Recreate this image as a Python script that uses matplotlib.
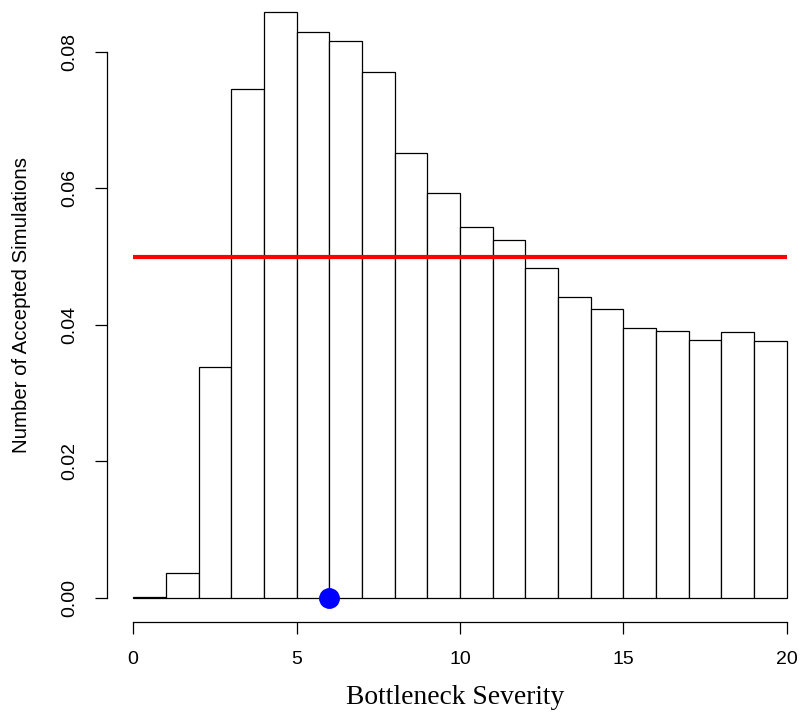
import numpy as np
import matplotlib.pyplot as plt

# Histogram of bottleneck severity among accepted simulations
bin_left = list(range(20))
freq = [0.0002, 0.0037, 0.0338, 0.0746, 0.0858, 0.0829, 0.0816, 0.0771, 0.0652, 0.0594,
        0.0544, 0.0525, 0.0484, 0.0441, 0.0423, 0.0396, 0.0391, 0.0378, 0.0389, 0.0377]
prior_level = 0.05   # flat prior density over 0-20
true_value = 6

x_ticks = [0, 5, 10, 15, 20]
y_ticks = [0.00, 0.02, 0.04, 0.06, 0.08]

W, H = 801, 713
fig = plt.figure(figsize=(W / 100, H / 100), dpi=100)
# plot region in pixels, R-style with 4% padding on the data range
left, right, bottom, top = 107, 813, 622, -10.8
ax = fig.add_axes([left / W, 1 - bottom / H, (right - left) / W, (bottom - top) / H])
ax.set_xlim(-0.8, 20.8)
ax.set_ylim(-0.00352, 0.0892)

ax.bar(bin_left, freq, width=1, align='edge', color='white', edgecolor='black', linewidth=0.9)
ax.plot([0, 20], [prior_level, prior_level], color='red', linewidth=3, solid_capstyle='butt')
ax.plot([true_value], [0], 'o', color='blue', markersize=14, clip_on=False, zorder=5)

for s in ['top', 'right']:
    ax.spines[s].set_visible(False)
ax.spines['left'].set_bounds(0, 0.08)
ax.spines['bottom'].set_bounds(0, 20)
for s in ['left', 'bottom']:
    ax.spines[s].set_linewidth(0.9)

ax.set_xticks(x_ticks)
ax.set_xticklabels([str(t) for t in x_ticks])
ax.set_yticks(y_ticks)
ax.set_yticklabels(['%.2f' % t for t in y_ticks], rotation=90, va='center')
ax.tick_params(axis='both', direction='out', length=8.6, width=0.9, pad=12,
               labelsize=14, labelfontfamily='Liberation Sans')

ax.set_xlabel('Bottleneck Severity', fontsize=19.8, family='Liberation Serif', va='center')
ax.xaxis.set_label_coords((455 - left) / (right - left), (bottom - 697) / (bottom - top))
ax.set_ylabel('Number of Accepted Simulations', fontsize=14.7, family='Liberation Sans', va='center')
ax.yaxis.set_label_coords((22 - left) / (right - left), (bottom - 305) / (bottom - top))

fig.savefig('out.png', dpi=100)
